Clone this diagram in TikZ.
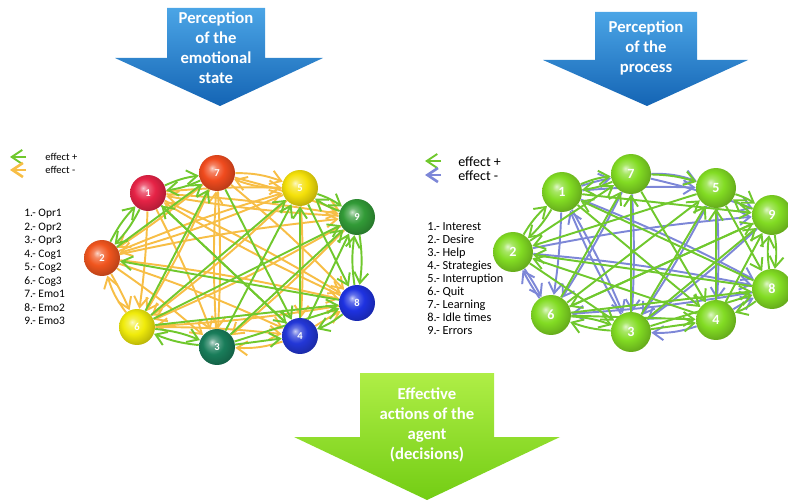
\documentclass[tikz,border=0pt]{standalone}
\usepackage{fontspec}
\setmainfont{Carlito}
\usetikzlibrary{arrows.meta,shadings}
\definecolor{posgreen}{RGB}{112,200,45}
\definecolor{negorange}{RGB}{247,190,70}
\definecolor{negblue}{RGB}{125,135,215}
\definecolor{ballgreen}{RGB}{130,220,35}
\definecolor{arrowblueA}{RGB}{75,165,230}
\definecolor{arrowblueB}{RGB}{20,100,180}
\definecolor{arrowgreenA}{RGB}{175,238,70}
\definecolor{arrowgreenB}{RGB}{115,205,20}
\definecolor{oprA}{RGB}{230,35,70}
\definecolor{oprB}{RGB}{240,85,30}
\definecolor{oprC}{RGB}{25,125,90}
\definecolor{cogA}{RGB}{35,55,215}
\definecolor{cogB}{RGB}{245,225,10}
\definecolor{cogC}{RGB}{240,235,10}
\definecolor{emoA}{RGB}{240,75,30}
\definecolor{emoB}{RGB}{30,50,225}
\definecolor{emoC}{RGB}{50,155,55}
\makeatletter
\pgfdeclareradialshading[tikz@ball]{glossy}{\pgfqpoint{-7bp}{7bp}}{%
  color(0bp)=(tikz@ball!25!white); color(6bp)=(tikz@ball!70!white);
  color(15bp)=(tikz@ball); color(24bp)=(tikz@ball!85!black);
  color(32bp)=(tikz@ball!70!black); color(50bp)=(tikz@ball!60!black)}
\makeatother
\pgfdeclarelayer{background}
\pgfsetlayers{background,main}

\begin{document}
\begin{tikzpicture}[x=0.02cm,y=-0.02cm,
    emo/.style={circle,inner sep=0pt,minimum size=7.2mm,ball color=#1,shading=glossy,
      text=white,font=\fontsize{6}{6}\selectfont\bfseries},
    proc/.style={circle,inner sep=0pt,minimum size=8mm,ball color=ballgreen,shading=glossy,
      text=white,font=\fontsize{8}{8}\selectfont\bfseries},
    tip/.style={-{Straight Barb[length=6pt,width=8pt]}},
    effpos/.style={tip,draw=posgreen,line width=1.1pt},
    effneg/.style={tip,draw=#1,line width=1.1pt},
    bigtext/.style={text=white,align=center,font=\fontsize{9.5}{11.3}\selectfont\bfseries},
    legtext/.style={anchor=west,inner sep=0pt}]
    \useasboundingbox (0,0) rectangle (788,503);

    % block arrows
    \shade[top color=arrowblueA,bottom color=arrowblueB] (167,8) -- (265,8) -- (265,58) -- (323,58)
        -- (220,106) -- (115,58) -- (167,58) -- cycle;
    \node[bigtext] (emostate) at (216,47.5) {Perception\\of the\\emotional\\state};
    \shade[top color=arrowblueA,bottom color=arrowblueB] (595,12) -- (697,12) -- (697,60) -- (748,60)
        -- (647,106) -- (543,60) -- (595,60) -- cycle;
    \node[bigtext] (process) at (646,48) {Perception\\of the\\process};
    \shade[top color=arrowgreenA,bottom color=arrowgreenB] (360,373) -- (494,373) -- (494,437) -- (560,437)
        -- (427,500) -- (294,437) -- (360,437) -- cycle;
    \node[bigtext] (decisions) at (427,425) {Effective\\actions of the\\agent\\(decisions)};

    % emotional state network
    \node[emo=oprA] (e1) at (148,193) {1};
    \node[emo=emoA] (e7) at (217,173) {7};
    \node[emo=cogB] (e5) at (300,188) {5};
    \node[emo=emoC] (e9) at (357,217) {9};
    \node[emo=oprB] (e2) at (102,258) {2};
    \node[emo=emoB] (e8) at (357,303) {8};
    \node[emo=cogA] (e4) at (300,336) {4};
    \node[emo=oprC] (e3) at (217,347) {3};
    \node[emo=cogC] (e6) at (137,327) {6};

    % process network
    \node[proc] (p1) at (562,192) {1};
    \node[proc] (p7) at (631,174) {7};
    \node[proc] (p5) at (716,188) {5};
    \node[proc] (p9) at (772,215) {9};
    \node[proc] (p2) at (513,252) {2};
    \node[proc] (p8) at (772,289) {8};
    \node[proc] (p4) at (716,320) {4};
    \node[proc] (p3) at (631,332) {3};
    \node[proc] (p6) at (551,315) {6};

    \begin{pgfonlayer}{background}
        % effect - (orange)
        \foreach \a/\b in {1/5,1/9,2/9,2/5,2/6,1/6,1/3,7/6,7/3,4/8,2/8,1/8,5/4,7/8,5/6,9/3,6/4,
                           2/3,9/6,8/6,2/4,7/2,3/7,5/2,8/1,9/1,7/9}
            \draw[effneg=negorange] (e\a) to[bend left=3] (e\b);
        \foreach \a/\b in {7/5,5/7,4/3,6/2}
            \draw[effneg=negorange] (e\a) to[bend left=10] (e\b);
        % effect + (green)
        \foreach \a/\b in {6/7,6/5,6/9,6/8,2/7,3/5,3/9,4/9,4/5,1/4,5/8,8/2,3/8,7/4,3/4,4/1}
            \draw[effpos] (e\a) -- (e\b);
        \foreach \a/\b in {1/7,7/1,2/1,1/2,5/9,9/5,9/8,8/9,6/3,3/6,8/4}
            \draw[effpos] (e\a) to[bend left=8] (e\b);

        % effect - (blue)
        \foreach \a/\b in {1/5,2/6,1/6,1/3,7/6,7/3,2/8,1/8,5/4,4/8,6/2,7/9,3/1,2/9,
                           5/3,9/3,8/6,1/7}
            \draw[effneg=negblue] (p\a) to[bend left=3] (p\b);
        \foreach \a/\b in {7/5,4/3}
            \draw[effneg=negblue] (p\a) to[bend left=10] (p\b);
        % effect + (green)
        \foreach \a/\b in {2/7,6/7,6/5,6/9,6/8,3/5,3/9,4/9,4/5,1/4,5/8,8/2,3/8,1/9,2/3,7/4,6/4,3/4,9/6,5/2,
                           4/2,8/1,3/7}
            \draw[effpos] (p\a) -- (p\b);
        \foreach \a/\b in {1/7,7/1,7/5,5/9,9/5,9/8,8/9,6/3,3/6,2/1,1/2,8/4}
            \draw[effpos] (p\a) to[bend left=8] (p\b);
    \end{pgfonlayer}

    % legends
    \coordinate (lgA) at (10,157);
    \coordinate (lgB) at (10,170);
    \draw[effpos] (26,157) -- (lgA);
    \draw[effneg=negorange,line width=1.5pt] (26,170) -- (lgB);
    \node[legtext,font=\fontsize{6}{6}\selectfont] (lposA) at (45,157) {effect +};
    \node[legtext,font=\fontsize{6}{6}\selectfont] (lnegA) at (45,170) {effect -};
    \node[anchor=north west,inner sep=0pt,align=left,font=\fontsize{6.5}{7.7}\selectfont] (emolist) at (24,209)
        {1.- Opr1\\2.- Opr2\\3.- Opr3\\4.- Cog1\\5.- Cog2\\6.- Cog3\\7.- Emo1\\8.- Emo2\\9.- Emo3};

    \coordinate (lgC) at (425,161);
    \coordinate (lgD) at (425,175);
    \draw[effpos] (441,161) -- (lgC);
    \draw[effneg=negblue,line width=1.5pt] (441,175) -- (lgD);
    \node[legtext,font=\fontsize{8}{8}\selectfont] (lposB) at (458,162) {effect +};
    \node[legtext,font=\fontsize{8}{8}\selectfont] (lnegB) at (458,175.5) {effect -};
    \node[anchor=north west,inner sep=0pt,align=left,font=\fontsize{7}{7.45}\selectfont] (proclist) at (427,222)
        {1.- Interest\\2.- Desire\\3.- Help\\4.- Strategies\\5.- Interruption\\6.- Quit\\7.- Learning\\8.- Idle times\\9.- Errors};
\end{tikzpicture}
\end{document}
